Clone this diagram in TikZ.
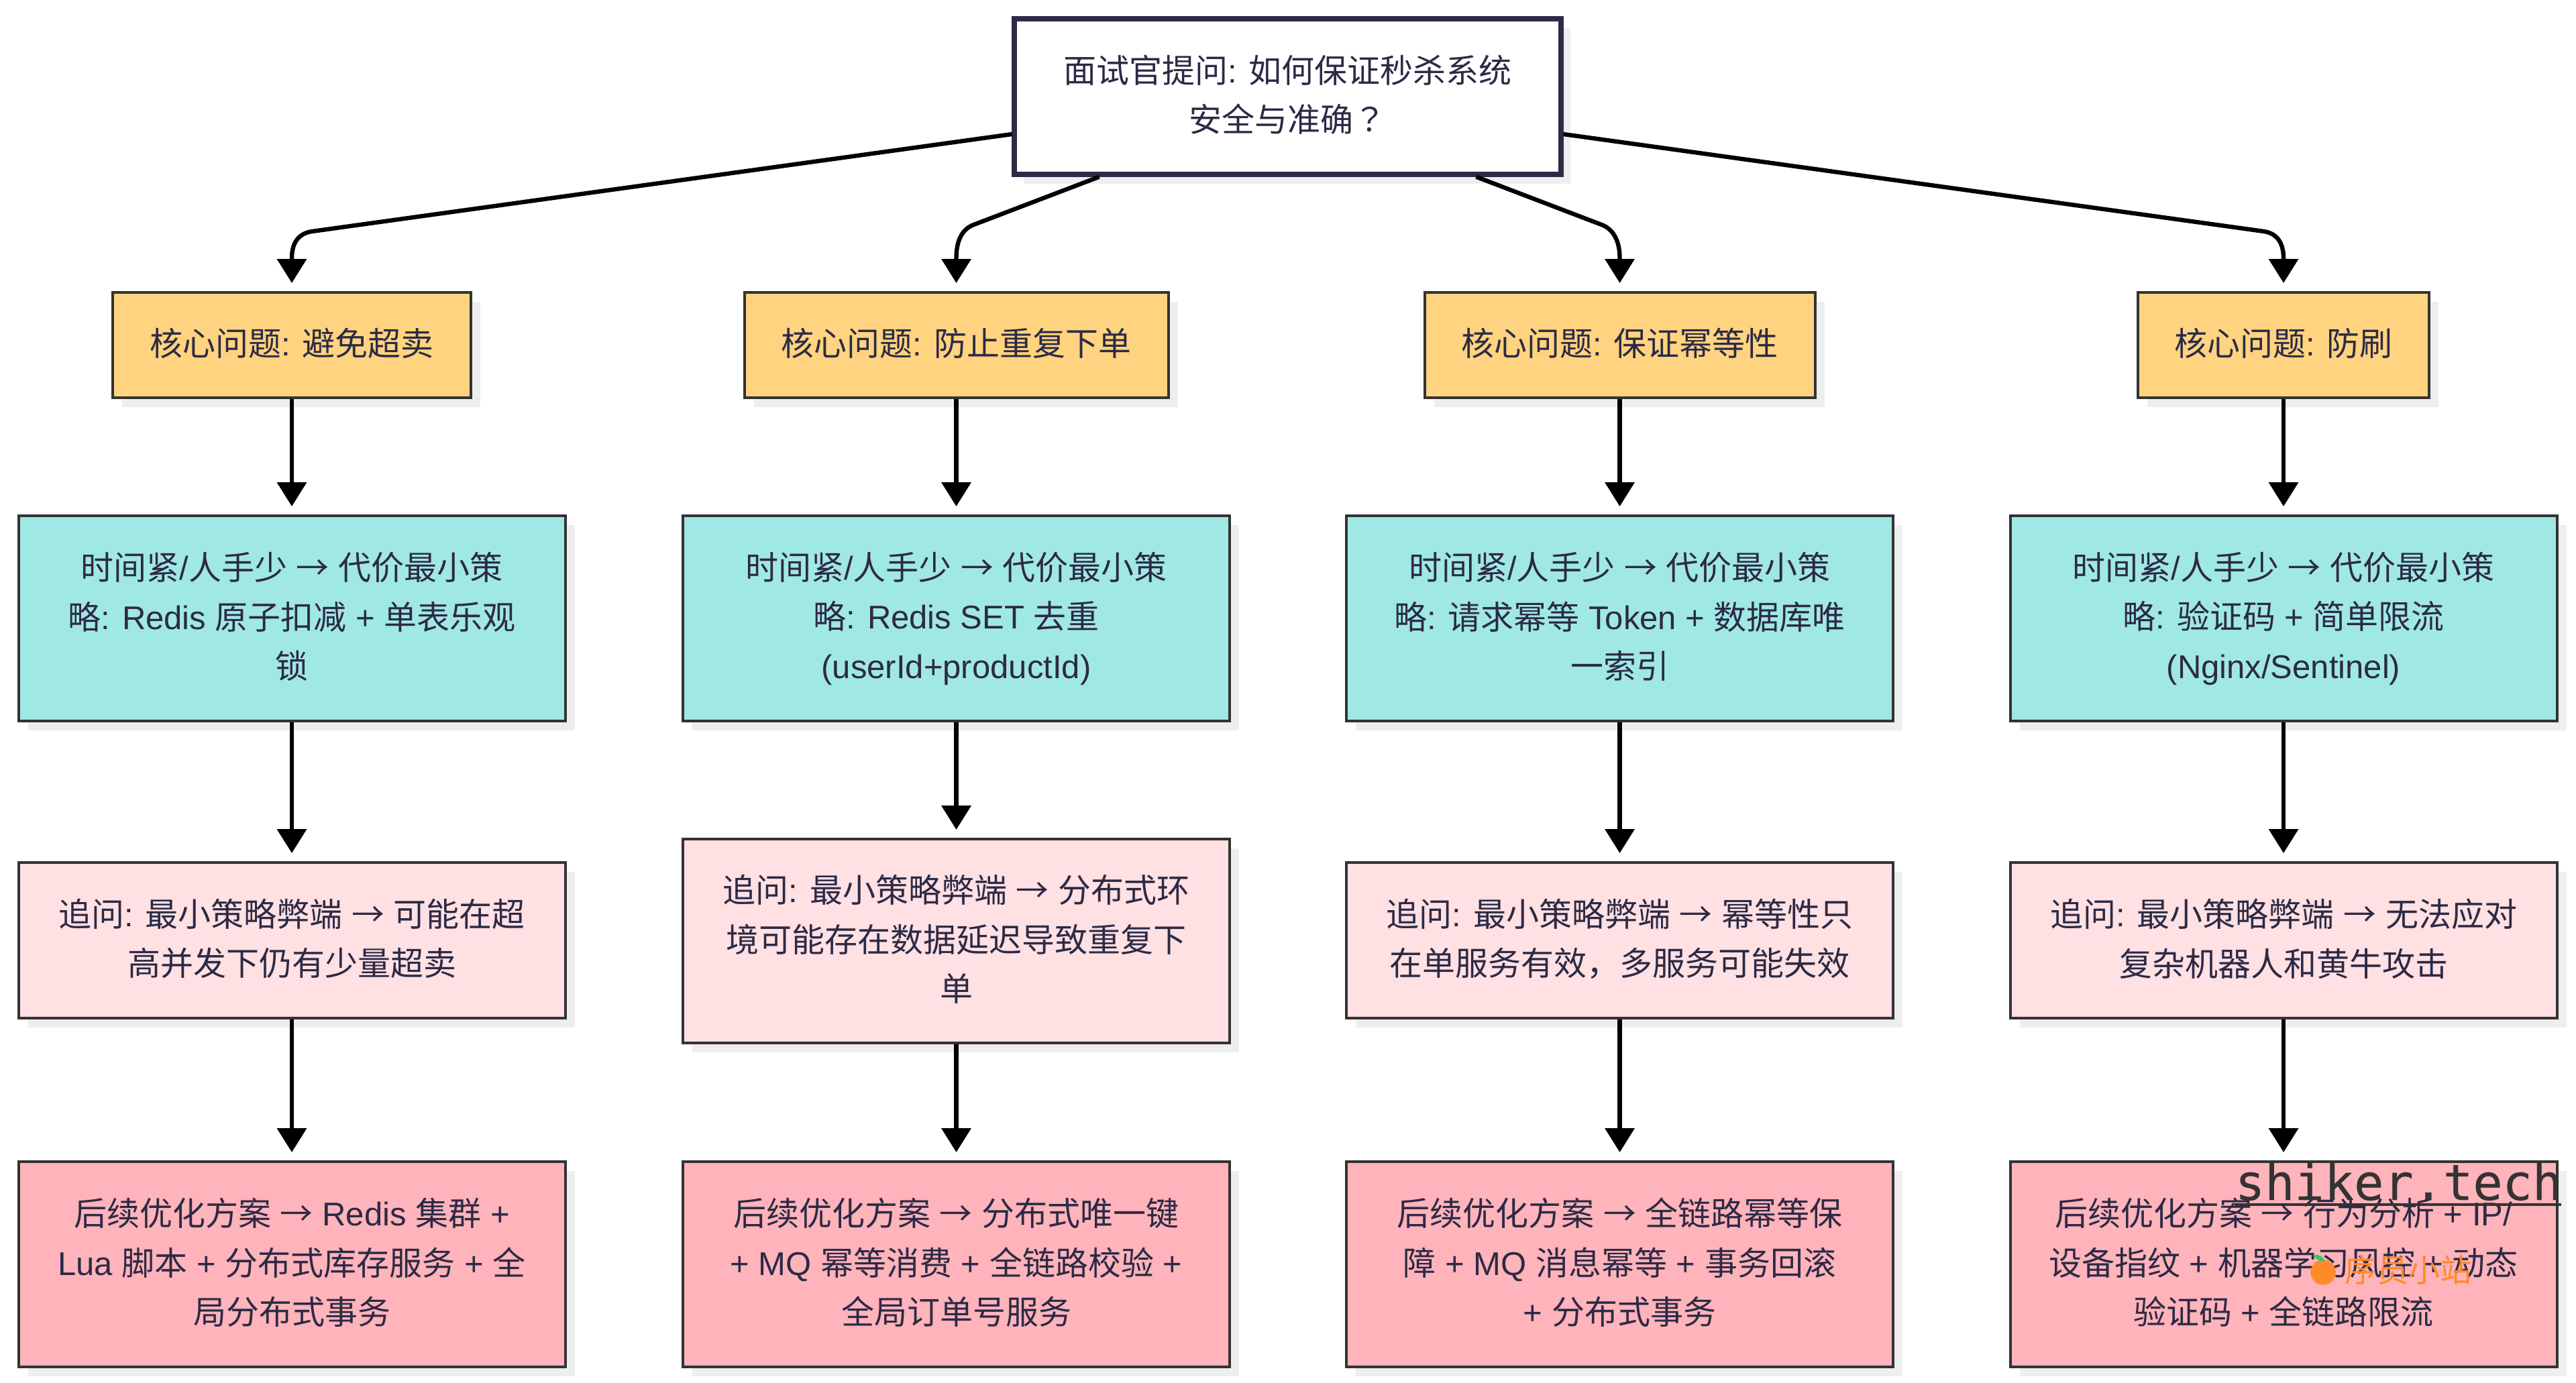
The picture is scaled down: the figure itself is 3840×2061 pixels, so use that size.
\documentclass[tikz,border=0pt]{standalone}
\usepackage{fontspec}
\usetikzlibrary{arrows.meta,calc,shadows}
\setmainfont{Liberation Sans}
\newfontfamily\cjk{Noto Sans CJK SC}
\newfontfamily\cjktc{Noto Sans CJK TC}
\newfontfamily\wmark[FakeBold=0.4]{DejaVu Sans Mono}
\XeTeXinterchartokenstate=1
\newXeTeXintercharclass\cjkclass
\newXeTeXintercharclass\qclass
\makeatletter
\count@="4E00 \loop\ifnum\count@<"A000 \XeTeXcharclass\count@=\cjkclass \advance\count@ by 1 \repeat
\makeatother
\XeTeXcharclass"FF0C=\cjkclass
\XeTeXcharclass"2192=\cjkclass
\XeTeXcharclass"FF1F=\qclass
\XeTeXinterchartoks 0 \cjkclass = {\cjk}
\XeTeXinterchartoks 4095 \cjkclass = {\cjk}
\XeTeXinterchartoks \cjkclass 0 = {\rmfamily}
\XeTeXinterchartoks 4095 0 = {\rmfamily}
\XeTeXinterchartoks \cjkclass \qclass = {\cjktc}
\definecolor{inkc}{HTML}{2C2A45}
\definecolor{linec}{HTML}{333333}
\definecolor{shadowc}{HTML}{EEEEEE}
\definecolor{orangec}{HTML}{FFD37F}
\definecolor{tealc}{HTML}{A0E8E4}
\definecolor{pinkc}{HTML}{FFE0E3}
\definecolor{redc}{HTML}{FFB3BA}
\definecolor{wmorange}{HTML}{FF8A2A}
\definecolor{wmgreen}{HTML}{2FCB6B}
\newcommand\boxstart{\spaceskip=3.4pt\relax}
\newcommand\boxend{\rule[-2.3pt]{0pt}{0pt}}
\tikzset{
  sz/.style 2 args={minimum width=#1*.25pt,minimum height=#2*.25pt},
  base/.style={draw=linec,line width=1pt,inner sep=0pt,align=center,text=inkc,
    font=\fontsize{12.25pt}{18.4pt}\selectfont,
    execute at begin node=\boxstart,
    execute at end node=\boxend,
    general shadow={fill=shadowc,shadow xshift=3.5pt,shadow yshift=-3.5pt}},
  topbox/.style={base,fill=white,draw=inkc,line width=1.8pt,sz={815}{232}},
  issue/.style={base,fill=orangec},
  quick/.style={base,fill=tealc,sz={815}{306}},
  ask/.style={base,fill=pinkc},
  plan/.style={base,fill=redc,sz={815}{306}},
  conn/.style={draw=black,line width=1.6pt,shorten >=3pt,-{Triangle[length=9pt,width=10.8pt]}},
}
\begin{document}
\begin{tikzpicture}[x=.25pt,y=-.25pt]
\fill[white] (0,0) rectangle (3840,2061);
\useasboundingbox (0,0) rectangle (3840,2061);
\node[topbox] (top) at (1919.5,144) {面试官提问: 如何保证秒杀系统\\安全与准确？};
\node[issue,sz={534}{157}] (a1) at (435,514.5) {核心问题: 避免超卖};
\node[issue,sz={632}{157}] (a2) at (1425.5,514.5) {核心问题: 防止重复下单};
\node[issue,sz={582}{157}] (a3) at (2414.5,514.5) {核心问题: 保证幂等性};
\node[issue,sz={434}{157}] (a4) at (3404,514.5) {核心问题: 防刷};
\node[quick] (b1) at (435,922) {时间紧/人手少 → 代价最小策\\略: Redis 原子扣减 + 单表乐观\\锁};
\node[quick] (b2) at (1425.5,922) {时间紧/人手少 → 代价最小策\\略: Redis SET 去重\\(userId+productId)};
\node[quick] (b3) at (2414.5,922) {时间紧/人手少 → 代价最小策\\略: 请求幂等 Token + 数据库唯\\一索引};
\node[quick] (b4) at (3404,922) {时间紧/人手少 → 代价最小策\\略: 验证码 + 简单限流\\(Nginx/Sentinel)};
\node[ask,sz={815}{232}] (c1) at (435,1402) {追问: 最小策略弊端 → 可能在超\\高并发下仍有少量超卖};
\node[ask,sz={815}{304}] (c2) at (1425.5,1403) {追问: 最小策略弊端 → 分布式环\\境可能存在数据延迟导致重复下\\单};
\node[ask,sz={815}{232}] (c3) at (2414.5,1402) {追问: 最小策略弊端 → 幂等性只\\在单服务有效，多服务可能失效};
\node[ask,sz={815}{232}] (c4) at (3404,1402) {追问: 最小策略弊端 → 无法应对\\复杂机器人和黄牛攻击};
\node[plan] (d1) at (435,1885) {后续优化方案 → Redis 集群 +\\Lua 脚本 + 分布式库存服务 + 全\\局分布式事务};
\node[plan] (d2) at (1425.5,1885) {后续优化方案 → 分布式唯一键\\+ MQ 幂等消费 + 全链路校验 +\\全局订单号服务};
\node[plan] (d3) at (2414.5,1885) {后续优化方案 → 全链路幂等保\\障 + MQ 消息幂等 + 事务回滚\\+ 分布式事务};
\node[plan] (d4) at (3404,1885) {后续优化方案 → 行为分析 + IP/\\设备指纹 + 机器学习风控 + 动态\\验证码 + 全链路限流};
% connectors from the top box
\draw[conn] ($(top.west)+(0,56)$) -- (465,345) .. controls (445,348) and (435,362) .. (435,385) -- (a1.north);
\draw[conn] ($(top.south)+(-281,0)$) -- (1449,336) .. controls (1432,344) and (1425.5,362) .. (1425.5,385) -- (a2.north);
\draw[conn] ($(top.south)+(281,0)$) -- (2390,336) .. controls (2407,344) and (2414.5,362) .. (2414.5,385) -- (a3.north);
\draw[conn] ($(top.east)+(0,56)$) -- (3375,345) .. controls (3394,348) and (3404,362) .. (3404,385) -- (a4.north);
% column connectors
\foreach \k in {1,2,3,4}{
  \draw[conn] (a\k) -- (b\k);
  \draw[conn] (b\k) -- (c\k);
  \draw[conn] (c\k) -- (d\k);
}
% watermark
\node[anchor=base west,inner sep=0pt,text=linec,execute at begin node={\XeTeXinterchartokenstate=0 },font=\wmark\fontsize{18.4pt}{18.4pt}\selectfont] (wm) at (3331,1789) {shiker.tech};
\draw[linec,line width=.8pt] (wm.base west |- 0,1796) -- (3818,1796);
\fill[wmorange] (3463,1897) circle [radius=18.7];
\fill[wmgreen] (3448,1871) .. controls (3458,1870) and (3464,1874) .. (3465,1880) .. controls (3457,1881) and (3451,1877) .. (3448,1871) -- cycle;
\node[anchor=west,inner sep=0pt,text=wmorange,font=\cjk\fontsize{11.8pt}{12pt}\selectfont] (wt) at (3495,1893) {序员小站};
\end{tikzpicture}
\end{document}
